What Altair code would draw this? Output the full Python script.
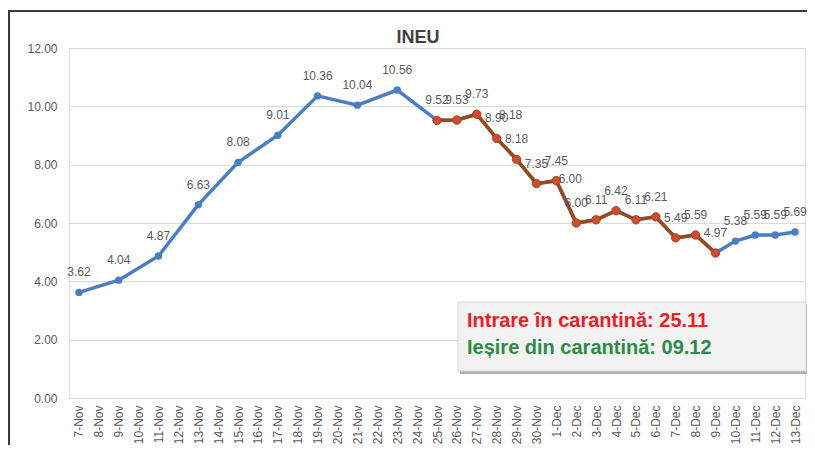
import altair as alt
import pandas as pd

# all category labels on the x axis
days = [f"{d}-Nov" for d in range(7, 31)] + [f"{d}-Dec" for d in range(1, 14)]

# measured series
dates = ["7-Nov", "9-Nov", "11-Nov", "13-Nov", "15-Nov", "17-Nov", "19-Nov", "21-Nov",
         "23-Nov", "25-Nov", "26-Nov", "27-Nov", "28-Nov", "29-Nov", "30-Nov", "1-Dec",
         "2-Dec", "3-Dec", "4-Dec", "5-Dec", "6-Dec", "7-Dec", "8-Dec", "9-Dec",
         "10-Dec", "11-Dec", "12-Dec", "13-Dec"]
values = [3.62, 4.04, 4.87, 6.63, 8.08, 9.01, 10.36, 10.04,
          10.56, 9.52, 9.53, 9.73, 8.90, 8.18, 7.35, 7.45,
          6.00, 6.11, 6.42, 6.11, 6.21, 5.49, 5.59, 4.97,
          5.38, 5.59, 5.59, 5.69]

# quarantine period (brown segment)
q_start, q_end = "25-Nov", "9-Dec"
# labels that appear a second time in the picture
dup_dates = ["29-Nov", "2-Dec"]

title_text = "INEU"
note_in = "Intrare în carantină: 25.11"
note_out = "Ieșire din carantină: 09.12"

df = pd.DataFrame({"date": dates, "value": values})
df["label"] = df["value"].map(lambda v: f"{v:.2f}")
i0, i1 = days.index(q_start), days.index(q_end)
df_q = df[df["date"].map(lambda d: i0 <= days.index(d) <= i1)]
df_dup = df[df["date"].isin(dup_dates)]

BLUE = "#4a7ec2"
BROWN = "#9a4a18"
RED_PT = "#d04a36"
GRAY = "#595959"
FONT = "Liberation Sans"

x = alt.X("date:N", sort=days,
          scale=alt.Scale(domain=days, type="point", padding=0.5),
          axis=alt.Axis(title=None, labelAngle=-90, labelFontSize=12, labelColor=GRAY,
                        labelFont=FONT, ticks=False, domain=False,
                        labelPadding=7, grid=False))
y = alt.Y("value:Q",
          scale=alt.Scale(domain=[0, 12], nice=False),
          axis=alt.Axis(title=None, values=[0, 2, 4, 6, 8, 10, 12], format=".2f",
                        labelFontSize=12, labelColor=GRAY, labelFont=FONT,
                        ticks=False, domain=False, labelPadding=12,
                        gridColor="#d9d9d9", gridWidth=1))

base = alt.Chart(df)
blue_line = base.mark_line(color=BLUE, strokeWidth=3.5).encode(x=x, y=y)
blue_pts = base.mark_circle(color=BLUE, size=55, opacity=1).encode(x=x, y=y)

qbase = alt.Chart(df_q)
brown_line = qbase.mark_line(color=BROWN, strokeWidth=3.5).encode(x=x, y=y)
brown_pts = qbase.mark_point(shape="circle", filled=True, fill=RED_PT, stroke=BROWN,
                             strokeWidth=1, size=70, opacity=1).encode(x=x, y=y)

labels = base.mark_text(fontSize=12, color=GRAY, dy=-20, font=FONT).encode(
    x=x, y=y, text="label:N")
dup_labels = alt.Chart(df_dup).mark_text(fontSize=12, color=GRAY, dy=-44, dx=-6,
                                         font=FONT).encode(
    x=x, y=y, text="label:N")

ann = pd.DataFrame({"t": [title_text]})
title = alt.Chart(ann).mark_text(fontSize=18, fontWeight="bold", color="#404040",
                                 font=FONT).encode(
    x=alt.value(349), y=alt.value(-10), text="t:N")

frame_top = alt.Chart(ann).mark_rule(stroke="#3a3a3a", strokeWidth=2).encode(
    x=alt.value(-60), x2=alt.value(740), y=alt.value(-37))
frame_left = alt.Chart(ann).mark_rule(stroke="#3a3a3a", strokeWidth=2).encode(
    x=alt.value(-60), y=alt.value(-38), y2=alt.value(400))

shadow = alt.Chart(ann).mark_rect(fill="#9a9a9a", opacity=0.8).encode(
    x=alt.value(391), x2=alt.value(740), y=alt.value(256), y2=alt.value(326))
box = alt.Chart(ann).mark_rect(fill="#f2f2f2", stroke="#d6d6d6", strokeWidth=1).encode(
    x=alt.value(389), x2=alt.value(737), y=alt.value(254), y2=alt.value(323))
t_in = alt.Chart(pd.DataFrame({"t": [note_in]})).mark_text(
    fontSize=20, fontWeight="bold", color="#ee1c25", align="left", baseline="middle",
    font=FONT).encode(x=alt.value(398), y=alt.value(273), text="t:N")
t_out = alt.Chart(pd.DataFrame({"t": [note_out]})).mark_text(
    fontSize=20, fontWeight="bold", color="#2e8b47", align="left", baseline="middle",
    font=FONT).encode(x=alt.value(398), y=alt.value(300), text="t:N")

chart = alt.layer(
    blue_line, blue_pts, brown_line, brown_pts, labels, dup_labels,
    title, frame_top, frame_left, shadow, box, t_in, t_out
).properties(
    width=736, height=350,
    autosize=alt.AutoSizeParams(type="none"),
    padding={"left": 61, "top": 40, "right": 2, "bottom": 47},
).configure_view(stroke=None).configure(background="white")

chart.save("out.html", embed_options={"renderer": "svg", "actions": False})
